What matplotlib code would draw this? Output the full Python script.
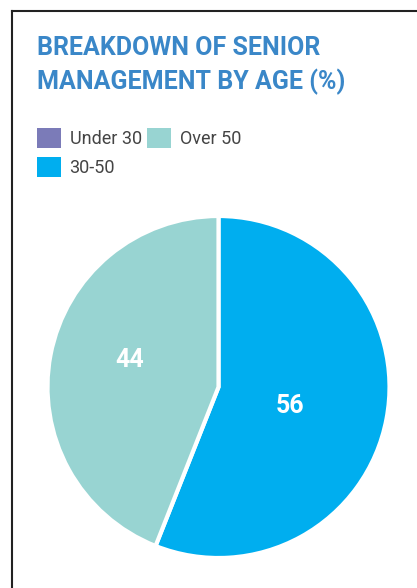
import matplotlib.pyplot as plt
from matplotlib.lines import Line2D

# data
labels = ["Under 30", "30-50", "Over 50"]
values = [0, 56, 44]
colors = ["#7b7bb8", "#00aeef", "#98d4d2"]

title_lines = ["BREAKDOWN OF SENIOR", "MANAGEMENT BY AGE (%)"]
font = ["Roboto", "DejaVu Sans"]

fig = plt.figure(figsize=(4.17, 5.88), dpi=100)
fig.patch.set_facecolor("white")

# frame lines on the left and top
fig.add_artist(Line2D([12 / 417, 12 / 417], [0, 1 - 11 / 588], color="#222222", lw=1.5))
fig.add_artist(Line2D([12 / 417, 1], [1 - 11 / 588, 1 - 11 / 588], color="#222222", lw=1.5))

# title
fig.text(37 / 417, 1 - 55 / 588, title_lines[0], color="#3a87c8", fontsize=18,
         fontweight="bold", family=font, va="baseline")
fig.text(37 / 417, 1 - 89 / 588, title_lines[1], color="#3a87c8", fontsize=18,
         fontweight="bold", family=font, va="baseline")

# pie
ax = fig.add_axes([47.5 / 417, 30 / 588, 342 / 417, 342 / 588])
wedges, texts, autotexts = ax.pie(
    values, colors=colors, startangle=90, counterclock=False,
    autopct=lambda p: "" if p == 0 else "%d" % round(p),
    pctdistance=0.5,
    wedgeprops=dict(edgecolor="white", linewidth=3),
    textprops=dict(color="white", fontsize=18, fontweight="bold", family=font),
)
# label placement as in the original layout
label_xy = [(0, 0), (0.42, -0.11), (-0.52, 0.16)]
for t, xy in zip(autotexts, label_xy):
    t.set_position(xy)
ax.set_xlim(-1, 1)
ax.set_ylim(-1, 1)
ax.set_aspect("equal")
ax.axis("off")

# legend: Under 30, Over 50 on first row, 30-50 on second
leg = fig.legend(wedges, labels,
                 loc="upper left", bbox_to_anchor=(37 / 417, 1 - 128 / 588),
                 ncol=2, frameon=False, borderpad=0, borderaxespad=0,
                 handlelength=1.35, handleheight=1.3, handletextpad=0.45,
                 labelspacing=0.5, columnspacing=0.3,
                 prop=dict(family=font, size=13))
for t in leg.get_texts():
    t.set_color("#444444")
for h in leg.legend_handles:
    h.set_edgecolor("none")
    h.set_linewidth(0)

fig.savefig("out.png", dpi=100, facecolor="white")
